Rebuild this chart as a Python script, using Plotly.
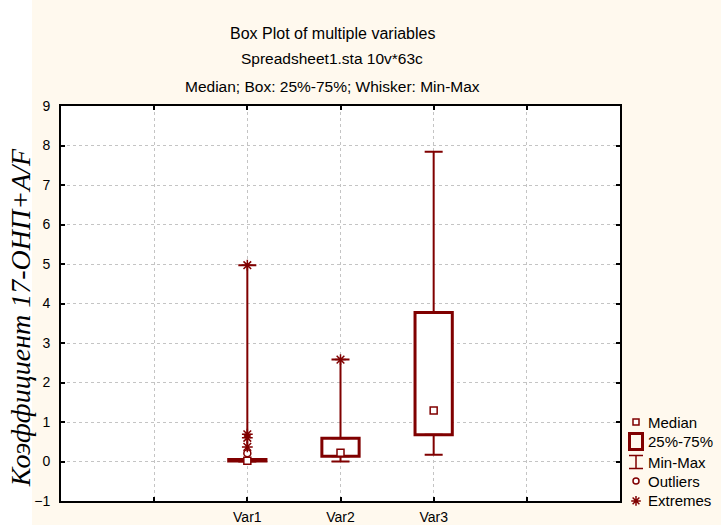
import plotly.graph_objects as go

# ---- data ----
variables = ["Var1", "Var2", "Var3"]
positions = [2, 3, 4]
q1 = [0.01, 0.13, 0.68]
q3 = [0.05, 0.59, 3.77]
median = [0.02, 0.22, 1.29]
vmin = [0.0, 0.0, 0.17]
vmax = [4.97, 2.58, 7.84]
outlier_x = [2]
outlier_y = [0.21]
extreme_x = [2, 2, 2, 2, 3]
extreme_y = [4.97, 0.69, 0.60, 0.37, 2.58]
x_ticktext = [""] + variables + [""]
legend_labels = ["Median", "25%-75%", "Min-Max", "Outliers", "Extremes"]

MAROON = "#800000"
PAPER = "#fff9ee"
FONT = "Liberation Sans, Arial, sans-serif"

fig = go.Figure()

# boxes (25%-75%)
fig.add_trace(go.Bar(
    x=positions, base=q1, y=[b - a for a, b in zip(q1, q3)], width=0.4,
    marker=dict(color="white", line=dict(color=MAROON, width=3)),
    showlegend=False, hoverinfo="skip"))

# upper whiskers
fig.add_trace(go.Scatter(
    x=positions, y=q3, mode="markers",
    marker=dict(size=1, color="rgba(0,0,0,0)"),
    error_y=dict(type="data", symmetric=False,
                 array=[m - b for m, b in zip(vmax, q3)],
                 arrayminus=[0] * len(q3), color=MAROON, thickness=2, width=9),
    showlegend=False, hoverinfo="skip"))
# lower whiskers
fig.add_trace(go.Scatter(
    x=positions, y=q1, mode="markers",
    marker=dict(size=1, color="rgba(0,0,0,0)"),
    error_y=dict(type="data", symmetric=False,
                 array=[0] * len(q1),
                 arrayminus=[a - m for a, m in zip(q1, vmin)],
                 color=MAROON, thickness=2, width=9),
    showlegend=False, hoverinfo="skip"))

# medians
fig.add_trace(go.Scatter(
    x=positions, y=median, mode="markers",
    marker=dict(symbol="square", size=7, color="white",
                line=dict(color=MAROON, width=1.5)),
    showlegend=False, cliponaxis=False))
# outliers
fig.add_trace(go.Scatter(
    x=outlier_x, y=outlier_y, mode="markers",
    marker=dict(symbol="circle", size=7, color="white",
                line=dict(color=MAROON, width=1.5)),
    showlegend=False))
# extremes
fig.add_trace(go.Scatter(
    x=extreme_x, y=extreme_y, mode="markers",
    marker=dict(symbol="asterisk-open", size=9, color=MAROON,
                line=dict(color=MAROON, width=1.5)),
    showlegend=False))

# ---- custom legend on an auxiliary pixel-unit axis (covers y 106..501) ----
lx = 636
ly = [422, 441.5, 462, 481, 500.9]
fig.add_trace(go.Scatter(
    x=[lx], y=[ly[0]], xaxis="x2", yaxis="y2", mode="markers",
    marker=dict(symbol="square", size=6, color="white",
                line=dict(color=MAROON, width=1.5)),
    showlegend=False, cliponaxis=False))
fig.add_trace(go.Scatter(
    x=[lx], y=[ly[2]], xaxis="x2", yaxis="y2", mode="markers",
    marker=dict(size=1, color="rgba(0,0,0,0)"),
    error_y=dict(type="constant", value=6.5, color=MAROON, thickness=1.5, width=7),
    showlegend=False, cliponaxis=False))
fig.add_trace(go.Scatter(
    x=[lx], y=[ly[3]], xaxis="x2", yaxis="y2", mode="markers",
    marker=dict(symbol="circle", size=6, color="white",
                line=dict(color=MAROON, width=1.5)),
    showlegend=False, cliponaxis=False))
fig.add_trace(go.Scatter(
    x=[lx], y=[ly[4]], xaxis="x2", yaxis="y2", mode="markers",
    marker=dict(symbol="asterisk-open", size=8, color=MAROON,
                line=dict(color=MAROON, width=1.5)),
    showlegend=False, cliponaxis=False))

PAPER_H = 525 - 106 - 24  # 395 px
shapes = [
    # white strip behind the y-axis title (kept inside the figure)
    dict(type="rect", xref="paper", yref="paper", x0=-61 / 660, x1=(32 - 61) / 660,
         y0=-24 / PAPER_H, y1=501 / PAPER_H, fillcolor="white", line=dict(width=0),
         layer="below"),
    dict(type="rect", xref="x domain", yref="y domain", x0=0, x1=1, y0=0, y1=1,
         fillcolor="white", line=dict(width=0), layer="below"),
    dict(type="rect", xref="x2", yref="y2", x0=629.5, x1=642.5, y0=433.5, y1=449.5,
         line=dict(color=MAROON, width=3), fillcolor="rgba(0,0,0,0)"),
]

annotations = []
for lab, yy in zip(legend_labels, ly):
    annotations.append(dict(xref="x2", yref="y2", x=646, y=yy, text=lab,
                            showarrow=False, xanchor="left", yanchor="middle",
                            font=dict(family=FONT, size=15, color="#000")))

# titles (positions relative to the plot frame)
for txt, yy, fs in [("Box Plot of multiple variables", 1.1848, 16),
                    ("Spreadsheet1.sta 10v*63c", 1.1215, 15.5),
                    ("Median; Box: 25%-75%; Whisker: Min-Max", 1.049, 15.5)]:
    annotations.append(dict(xref="x domain", yref="y domain", x=0.4848, y=yy, text=txt,
                            showarrow=False, xanchor="center", yanchor="middle",
                            font=dict(family=FONT, size=fs, color="#000")))
# y-axis title
annotations.append(dict(xref="x domain", yref="y domain", x=-0.0733, y=0.463,
                        text="<i>Коэффициент 17-ОНП+A/F</i>", textangle=-90,
                        showarrow=False, xanchor="center", yanchor="middle",
                        font=dict(family="Liberation Serif, Times New Roman, serif",
                                  size=28, color="#000")))

axis_common = dict(showline=True, linecolor="black", linewidth=2, mirror="ticks",
                   ticks="inside", ticklen=4, tickwidth=1.5, tickcolor="black",
                   showgrid=True, gridcolor="#c4c4c4", griddash="dot", gridwidth=1,
                   zeroline=False, fixedrange=True,
                   tickfont=dict(family=FONT, size=14, color="#000"))

fig.update_layout(
    width=721, height=525,
    margin=dict(l=61, r=0, t=106, b=24, autoexpand=False),
    paper_bgcolor=PAPER, plot_bgcolor=PAPER,
    showlegend=False,
    xaxis=dict(domain=[0, 559 / 660], range=[0, 6], tickmode="array",
               tickvals=[1, 2, 3, 4, 5], ticktext=x_ticktext,
               ticklabelstandoff=2, **axis_common),
    yaxis=dict(range=[-1, 9], tickmode="linear", tick0=-1,
               dtick=1, ticklabelstandoff=6, **axis_common),
    xaxis2=dict(domain=[561 / 660, 1], range=[622, 721], visible=False,
                anchor="y2", fixedrange=True),
    yaxis2=dict(domain=[0, 1], range=[501, 106], visible=False,
                anchor="x2", fixedrange=True),
    shapes=shapes, annotations=annotations,
)

fig.write_html("out.html", config={"displayModeBar": False},
               post_script="document.documentElement.style.margin='0';"
               "document.body.style.margin='0';"
               "document.body.style.background='" + PAPER + "';")
